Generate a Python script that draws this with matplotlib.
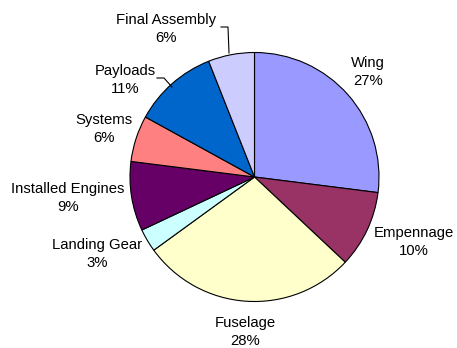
import matplotlib
matplotlib.use("Agg")
import matplotlib.pyplot as plt

plt.rcParams['font.family'] = ['Liberation Sans', 'DejaVu Sans']

# cost breakdown by group
groups = ['Wing', 'Empennage', 'Fuselage', 'Landing Gear', 'Installed Engines',
          'Systems', 'Payloads', 'Final Assembly']
shares = [27, 10, 28, 3, 9, 6, 11, 6]
colors = ['#9999FF', '#993366', '#FFFFCC', '#CCFFFF', '#660066',
          '#FF8080', '#0066CC', '#CCCCFF']

W, H = 457, 348
fig = plt.figure(figsize=(W / 100, H / 100), dpi=100)
ax = fig.add_axes([0, 0, 1, 1])

# pie drawn in pixel-like coords; y axis is flipped so wedges go counterclockwise
# in data space to appear clockwise on screen
cx, cy, r = 254.5, 177, 124.5
ax.pie(shares, colors=colors, startangle=-90, counterclock=True,
       center=(cx, cy), radius=r, frame=True,
       wedgeprops=dict(edgecolor='black', linewidth=0.8))
ax.set_xlim(0, W)
ax.set_ylim(H, 0)
ax.set_aspect('auto')
ax.axis('off')

# label centres (x, y of the two-line block)
label_pos = [(368, 72), (414, 242), (245, 332), (97, 254), (68, 198),
             (104, 129), (125, 80), (166, 29)]
for name, v, (x, y) in zip(groups, shares, label_pos):
    ax.text(x, y, f"{name}\n{v}%", ha='center', va='center', fontsize=10.7,
            linespacing=1.4, color='black')

# leader lines for the small top slices
ax.plot([221, 228, 229], [27, 27, 53], color='black', lw=0.8)
ax.plot([157, 164, 172], [78, 78, 87], color='black', lw=0.8)

fig.savefig('out.png', dpi=100)
